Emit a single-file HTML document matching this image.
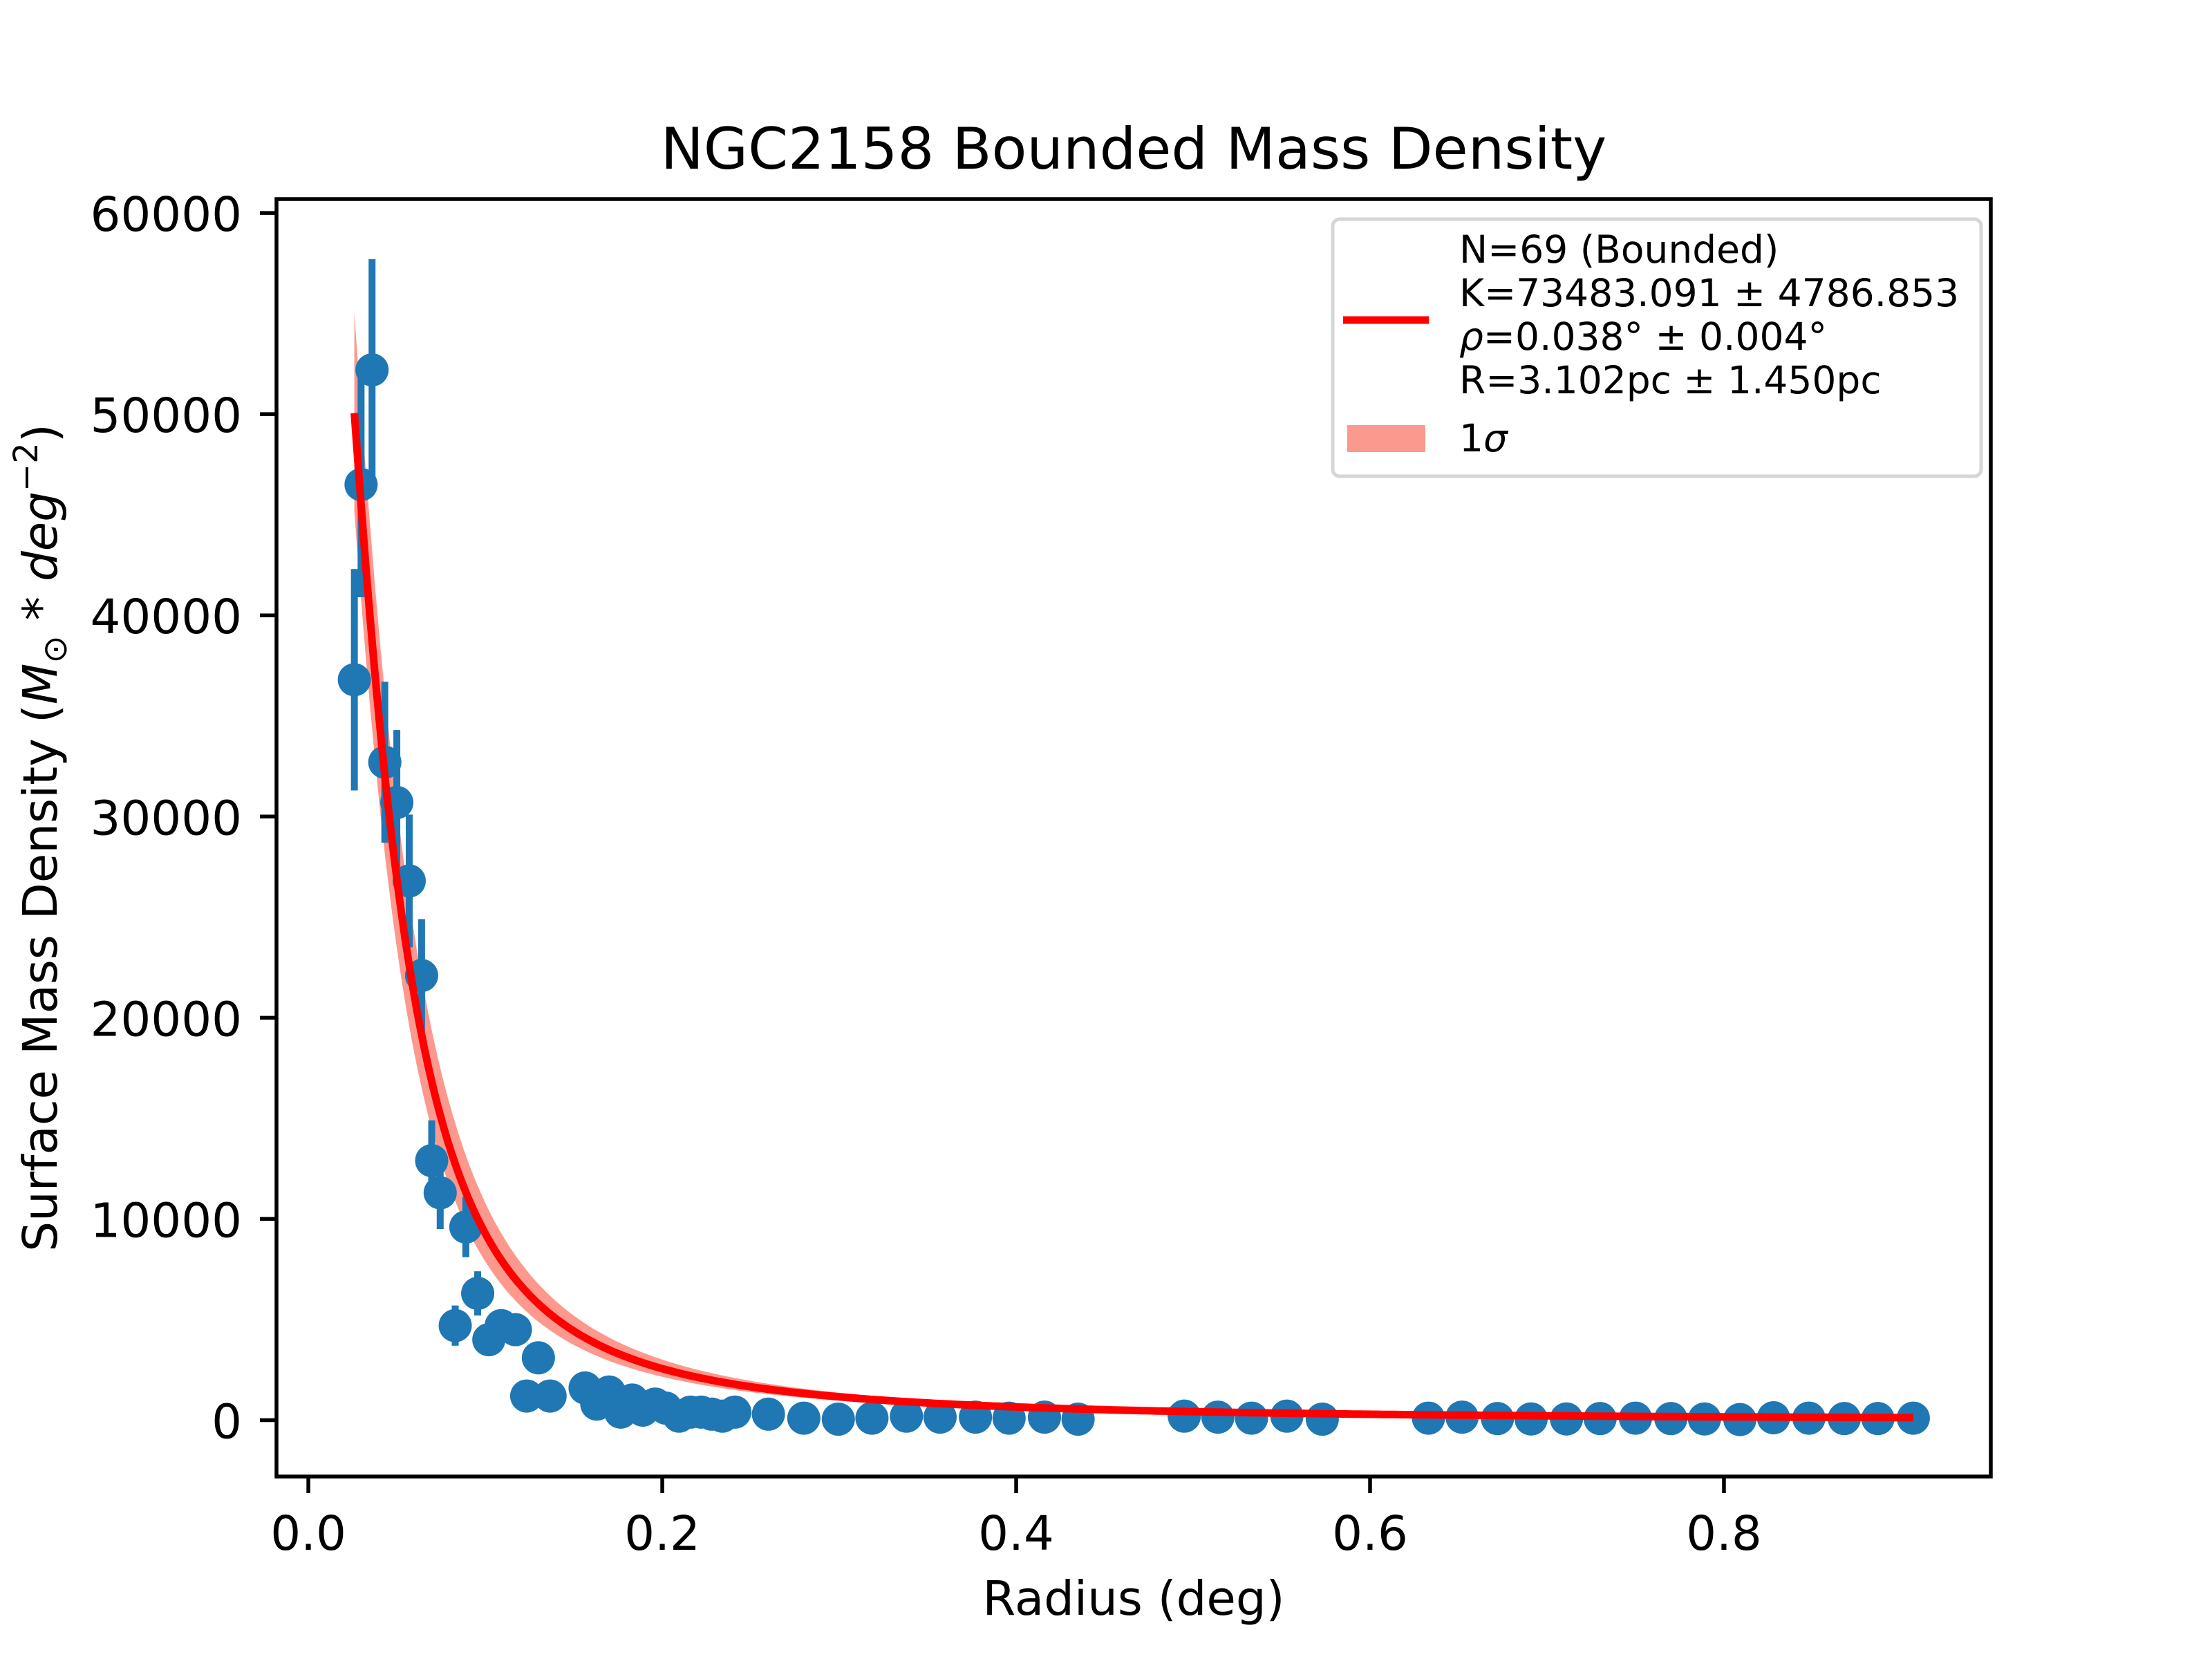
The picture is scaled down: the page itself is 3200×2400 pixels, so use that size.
<!DOCTYPE html>
<html><head><meta charset="utf-8"><style>
html,body{margin:0;padding:0;background:#fff;}
svg{display:block;font-family:"DejaVu Sans","Liberation Sans",sans-serif;}
</style></head><body>
<svg id="chart" width="3200" height="2400" viewBox="0 0 3200 2400" xmlns="http://www.w3.org/2000/svg">
<rect width="3200" height="2400" fill="#fff"/>
<text x="1640" y="244" font-size="83" text-anchor="middle">NGC2158 Bounded Mass Density</text>
<g id="band"></g>
<g id="errs"></g>
<g id="pts"></g>
<g id="fit"></g>
<g id="axes"></g>
<text x="1640" y="2336" font-size="69" text-anchor="middle">Radius (deg)</text>
<text transform="translate(82,1212) rotate(-90)" font-size="69" text-anchor="middle">Surface Mass Density (<tspan font-style="italic">M</tspan><tspan font-size="48" dy="14">⊙</tspan><tspan dy="-14"> * </tspan><tspan font-style="italic">deg</tspan><tspan font-size="48" dy="-28">−2</tspan><tspan dy="28">)</tspan></text>
<g>
<rect x="1928" y="317" width="938" height="372" rx="10" fill="#fff" fill-opacity="0.8" stroke="#d6d6d6" stroke-width="5"/>
<line x1="1943" y1="463" x2="2067" y2="463" stroke="#ff0000" stroke-width="11"/>
<rect x="1949" y="615" width="113" height="39" fill="#fa9a8e"/>
<g font-size="55">
<text x="2111" y="380">N=69 (Bounded)</text>
<text x="2111" y="443">K=73483.091 ± 4786.853</text>
<text x="2111" y="506"><tspan font-style="italic">ρ</tspan>=0.038° ± 0.004°</text>
<text x="2111" y="569">R=3.102pc ± 1.450pc</text>
</g>
<text x="2111" y="653" font-size="55">1<tspan font-style="italic">σ</tspan></text>
</g>
</svg>
<script>
const radius = [0.026,0.0298,0.036,0.0432,0.050,0.057,0.064,0.0697,0.0745,0.083,0.089,0.0957,0.102,0.109,0.117,0.1234,0.130,0.1366,0.1564,0.163,0.170,0.1765,0.183,0.189,0.196,0.202,0.2095,0.216,0.222,0.228,0.234,0.241,0.260,0.280,0.2995,0.3185,0.338,0.357,0.377,0.396,0.416,0.435,0.495,0.514,0.533,0.553,0.573,0.633,0.652,0.672,0.691,0.711,0.730,0.750,0.770,0.789,0.809,0.828,0.848,0.868,0.887,0.907];
const density = [36800,46500,52200,32700,30700,26800,22100,12900,11300,4700,9600,6300,4000,4700,4500,1200,3100,1200,1600,800,1400,400,1000,500,800,600,200,400,400,300,200,400,300,100,50,100,200,150,150,100,150,50,200,150,100,200,50,100,150,80,60,60,80,100,80,60,30,120,100,80,80,100];
const densityErr = [5500,5600,5500,4000,3600,3300,2800,2000,1800,1000,1500,1100,700,700,700,300,300,200,200,150,150,100,100,100,100,100,80,80,80,80,60,60,60,40,40,40,40,40,40,40,40,30,30,30,30,30,30,30,30,30,30,30,30,30,30,30,30,30,30,30,30,30];
const fitK = 73483.091, fitKErr = 4786.853, fitRho = 0.038, fitRhoErr = 0.002;
const xTicks = [0.0,0.2,0.4,0.6,0.8];
const xTickLabels = ["0.0","0.2","0.4","0.6","0.8"];
const yTicks = [0,10000,20000,30000,40000,50000,60000];
const yTickLabels = ["0","10000","20000","30000","40000","50000","60000"];

const NS="http://www.w3.org/2000/svg";
const L=400,R=2880,T=288,B=2136;
const xMin=-0.018,xMax=0.9508,yMin=-2800,yMax=60690;
const sx=v=>L+(v-xMin)/(xMax-xMin)*(R-L);
const sy=v=>B-(v-yMin)/(yMax-yMin)*(B-T);
function mk(tag,attrs,parent){const e=document.createElementNS(NS,tag);for(const k in attrs)e.setAttribute(k,attrs[k]);parent.appendChild(e);return e;}
const model=(r,K,rho)=>K/(1+(r/rho)*(r/rho));

const band=document.getElementById('band');
const r0=radius[0], r1=radius[radius.length-1];
let up=[],lo=[];
for(let i=0;i<=300;i++){const r=r0+(r1-r0)*i/300;
 up.push(sx(r).toFixed(1)+','+sy(model(r,fitK+fitKErr,fitRho+fitRhoErr)).toFixed(1));
 lo.push(sx(r).toFixed(1)+','+sy(model(r,fitK-fitKErr,fitRho-fitRhoErr)).toFixed(1));}
const bp=mk('polygon',{points:up.concat(lo.reverse()).join(' '),fill:'#fa8072','fill-opacity':'0.8'},band);



const errs=document.getElementById('errs'), pts=document.getElementById('pts');
radius.forEach((r,i)=>{
 const e=mk('line',{x1:sx(r),x2:sx(r),y1:sy(density[i]-densityErr[i]),y2:sy(density[i]+densityErr[i]),stroke:'#1f77b4','stroke-width':10},errs);
 
 
 const c=mk('circle',{cx:sx(r),cy:sy(density[i]),r:24,fill:'#1f77b4'},pts);
 
 
});

const fit=document.getElementById('fit');
let fp=[];
for(let i=0;i<=400;i++){const r=r0+(r1-r0)*i/400;fp.push(sx(r).toFixed(1)+','+sy(model(r,fitK,fitRho)).toFixed(1));}
const fl=mk('polyline',{points:fp.join(' '),fill:'none',stroke:'#ff0000','stroke-width':11,'stroke-linejoin':'round'},fit);



const ax=document.getElementById('axes');
const fr=mk('rect',{x:L,y:T,width:R-L,height:B-T,fill:'none',stroke:'#000','stroke-width':5.5},ax);


xTicks.forEach((v,i)=>{
 const t=mk('line',{x1:sx(v),x2:sx(v),y1:B,y2:B+24,stroke:'#000','stroke-width':5.5},ax);
 
 
 const tx=mk('text',{x:sx(v),y:B+106,'font-size':69,'text-anchor':'middle'},ax);
 tx.textContent=xTickLabels[i];
 
 
});
yTicks.forEach((v,i)=>{
 const t=mk('line',{x1:L-24,x2:L,y1:sy(v),y2:sy(v),stroke:'#000','stroke-width':5.5},ax);
 
 
 const tx=mk('text',{x:L-50,y:sy(v)+26,'font-size':69,'text-anchor':'end'},ax);
 tx.textContent=yTickLabels[i];
 
 
});
</script>
</body></html>
